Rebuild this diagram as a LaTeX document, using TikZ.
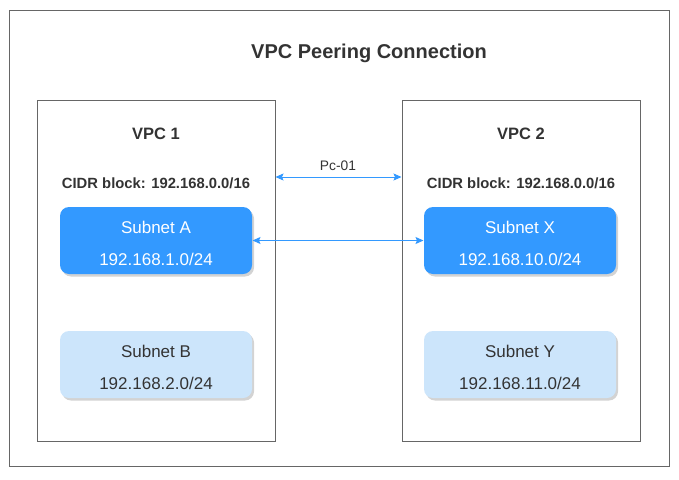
\documentclass[tikz,border=0pt]{standalone}
\usepackage{fontspec}
\setmainfont{Liberation Sans}
\usetikzlibrary{arrows.meta,shadows}
\definecolor{boxline}{HTML}{666666}
\definecolor{txt}{HTML}{333333}
\definecolor{strongblue}{HTML}{3399FF}
\definecolor{paleblue}{HTML}{CCE5FB}
\begin{document}
\begin{tikzpicture}[x=1pt,y=-1pt,line width=1pt,
	frame/.style={draw=boxline,minimum width=238pt,minimum height=341pt,inner sep=0pt},
	subnet/.style 2 args={rounded corners=9pt,minimum width=192pt,minimum height=67pt,
		drop shadow={shadow xshift=2pt,shadow yshift=-2.5pt,opacity=0.35},
		label={[align=center,font=\fontsize{17}{32}\selectfont,yshift=-2.5pt,text=#2]center:#1}},
	active/.style={subnet={#1}{white},fill=strongblue},
	idle/.style={subnet={#1}{txt},fill=paleblue},
	link/.style={draw=strongblue,line width=0.9pt,{Stealth[length=8pt,width=7pt,inset=1.5pt]}-{Stealth[length=8pt,width=7pt,inset=1.5pt]}}]
	\useasboundingbox (0,0) rectangle (679,479);
	\node[draw=boxline,minimum width=660pt,minimum height=456pt,inner sep=0pt] (outer) at (339,238) {};
	\node[text=txt,font=\fontsize{20}{22}\selectfont\bfseries] (title) at (369,53) {VPC Peering Connection};
	% left vpc
	\node[frame] (vpc1) at (156,270.5) {};
	\node[text=txt,font=\fontsize{16.5}{18}\selectfont\bfseries] (name1) at (156,134) {VPC 1};
	\node[text=txt,font=\fontsize{14.8}{16}\selectfont\bfseries] (cidr1) at (156,183) {CIDR block: 192.168.0.0/16};
	\node[active={Subnet A\\192.168.1.0/24}] (subA) at (156,240.5) {};
	\node[idle={Subnet B\\192.168.2.0/24}] (subB) at (156,364.5) {};
	% right vpc
	\node[frame] (vpc2) at (521,270.5) {};
	\node[text=txt,font=\fontsize{16.5}{18}\selectfont\bfseries] (name2) at (521,134) {VPC 2};
	\node[text=txt,font=\fontsize{14.8}{16}\selectfont\bfseries] (cidr2) at (521,183) {CIDR block: 192.168.0.0/16};
	\node[active={Subnet X\\192.168.10.0/24}] (subX) at (520,240.5) {};
	\node[idle={Subnet Y\\192.168.11.0/24}] (subY) at (520,364.5) {};
	% peering
	\coordinate (pc) at (338,177);
	\node[text=txt,font=\fontsize{13.8}{15}\selectfont] (pclabel) at (338,166) {Pc-01};
	\draw[link] (vpc1.east |- pc) -- (vpc2.west |- pc);
	\draw[link] (subA.east) -- (subX.west);
\end{tikzpicture}
\end{document}
